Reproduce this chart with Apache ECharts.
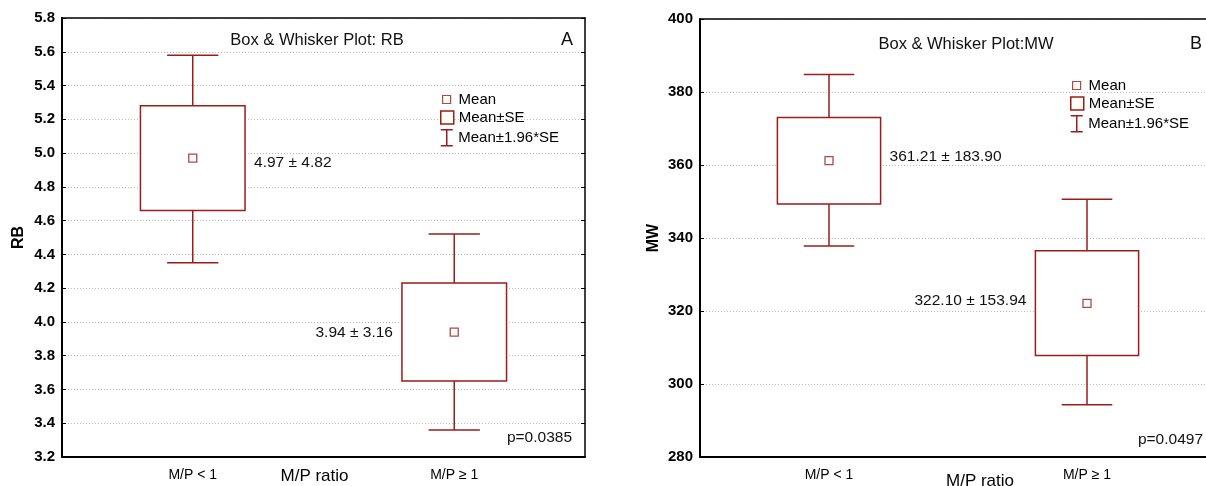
<!DOCTYPE html>
<html>
<head>
<meta charset="utf-8">
<script src="https://cdn.jsdelivr.net/npm/echarts@6/dist/echarts.min.js"></script>
<style>
  html, body { margin: 0; padding: 0; background: #fff; }
  #chart { width: 1206px; height: 486px; }
</style>
</head>
<body>
<div id="chart"></div>
<script>
const categories = ['M/P < 1', 'M/P \u2265 1'];

// RB panel (A)
const rbMean = [4.97, 3.94];
const rbSeLow = [4.66, 3.65];
const rbSeHigh = [5.28, 4.23];
const rbCiLow = [4.35, 3.36];
const rbCiHigh = [5.58, 4.52];
const rbLabels = ['4.97 \u00b1 4.82', '3.94 \u00b1 3.16'];

// MW panel (B)
const mwMean = [361.21, 322.10];
const mwSeLow = [349.3, 307.8];
const mwSeHigh = [373.0, 336.5];
const mwCiLow = [337.8, 294.3];
const mwCiHigh = [384.8, 350.6];
const mwLabels = ['361.21 \u00b1 183.90', '322.10 \u00b1 153.94'];

const labelSide = ['right', 'left'];

const RED = '#9b1c1c';
const FONT = '"Liberation Sans", Arial, sans-serif';

const chart = echarts.init(document.getElementById('chart'));

function renderWhisker(params, api) {
  const x = api.value(0);
  const band = api.size([1, 0])[0];
  const half = band * 0.098;
  const lo = api.coord([x, api.value(1)]);
  const boxLo = api.coord([x, api.value(2)]);
  const boxHi = api.coord([x, api.value(3)]);
  const hi = api.coord([x, api.value(4)]);
  const style = { stroke: RED, lineWidth: 1.5 };
  return {
    type: 'group',
    children: [
      { type: 'line', shape: { x1: lo[0], y1: lo[1], x2: boxLo[0], y2: boxLo[1] }, style: style },
      { type: 'line', shape: { x1: boxHi[0], y1: boxHi[1], x2: hi[0], y2: hi[1] }, style: style },
      { type: 'line', shape: { x1: lo[0] - half, y1: lo[1], x2: lo[0] + half, y2: lo[1] }, style: style },
      { type: 'line', shape: { x1: hi[0] - half, y1: hi[1], x2: hi[0] + half, y2: hi[1] }, style: style }
    ]
  };
}

// labelShift: small vertical nudge of the value text, per group
function renderBox(labels, labelShift) {
  return function (params, api) {
    const i = params.dataIndex;
    const x = api.value(0);
    const band = api.size([1, 0])[0];
    const w = band * 0.4;
    const lo = api.coord([x, api.value(1)]);
    const hi = api.coord([x, api.value(2)]);
    const m = api.coord([x, api.value(3)]);
    const right = labelSide[i] === 'right';
    return {
      type: 'group',
      children: [
        {
          type: 'rect',
          shape: { x: hi[0] - w / 2, y: hi[1], width: w, height: lo[1] - hi[1] },
          style: { fill: '#fff', stroke: RED, lineWidth: 1.5 }
        },
        {
          type: 'text',
          x: right ? hi[0] + w / 2 + 9 : hi[0] - w / 2 - 9,
          y: m[1] + labelShift[i],
          style: {
            text: labels[i],
            textAlign: right ? 'left' : 'right',
            textVerticalAlign: 'middle',
            font: '15.5px ' + FONT,
            fill: '#111'
          }
        }
      ]
    };
  };
}

function makeSeries(idx, mean, seLow, seHigh, ciLow, ciHigh, labels, labelShift) {
  return [
    {
      name: 'Mean\u00b11.96*SE',
      type: 'custom',
      xAxisIndex: idx * 2,
      yAxisIndex: idx * 2,
      renderItem: renderWhisker,
      encode: { x: 0, y: [1, 4] },
      data: categories.map((c, i) => [i, ciLow[i], seLow[i], seHigh[i], ciHigh[i]]),
      z: 2
    },
    {
      name: 'Mean\u00b1SE',
      type: 'custom',
      xAxisIndex: idx * 2,
      yAxisIndex: idx * 2,
      renderItem: renderBox(labels, labelShift),
      encode: { x: 0, y: [1, 2] },
      data: categories.map((c, i) => [i, seLow[i], seHigh[i], mean[i]]),
      z: 3
    },
    {
      name: 'Mean',
      type: 'scatter',
      xAxisIndex: idx * 2,
      yAxisIndex: idx * 2,
      symbol: 'rect',
      symbolSize: 8,
      itemStyle: { color: '#fff', borderColor: RED, borderWidth: 1.3 },
      data: categories.map((c, i) => [i, mean[i]]),
      z: 4
    }
  ];
}

function xAxes(gridIndex, namePadding, nameGap) {
  return [
    {
      type: 'category',
      gridIndex: gridIndex,
      data: categories,
      position: 'bottom',
      name: 'M/P ratio',
      nameLocation: 'middle',
      nameGap: nameGap,
      nameMoveOverlap: false,
      nameTextStyle: { fontSize: 17, color: '#000', fontFamily: FONT, padding: namePadding },
      axisLine: { lineStyle: { color: '#000', width: 2 } },
      axisTick: { inside: true, alignWithLabel: true, length: 4, lineStyle: { color: '#000' } },
      axisLabel: { fontSize: 14, color: '#000', fontFamily: FONT, margin: 11 },
      splitLine: { show: false }
    },
    {
      type: 'category',
      gridIndex: gridIndex,
      data: categories,
      position: 'top',
      axisLine: { lineStyle: { color: '#000', width: 1.5 } },
      axisTick: { inside: true, alignWithLabel: true, length: 4, lineStyle: { color: '#000' } },
      axisLabel: { show: false },
      splitLine: { show: false }
    }
  ];
}

function yAxes(gridIndex, name, min, max, interval, digits, nameGap, showRight) {
  return [
    {
      type: 'value',
      gridIndex: gridIndex,
      position: 'left',
      min: min,
      max: max,
      interval: interval,
      name: name,
      nameLocation: 'middle',
      nameRotate: 90,
      nameGap: nameGap,
      nameTextStyle: { fontSize: 16, fontWeight: 'bold', color: '#000', fontFamily: FONT },
      axisLine: { show: true, lineStyle: { color: '#000', width: 2 } },
      axisTick: { show: true, inside: true, length: 4, lineStyle: { color: '#000' } },
      axisLabel: {
        fontSize: 15, color: '#000', fontFamily: FONT, fontWeight: 'bold', margin: 7,
        formatter: v => v.toFixed(digits)
      },
      splitLine: { show: true, lineStyle: { color: '#bdbdbd', type: [1, 2], width: 1 } }
    },
    {
      type: 'value',
      gridIndex: gridIndex,
      position: 'right',
      show: showRight,
      min: min,
      max: max,
      interval: interval,
      axisLine: { show: true, lineStyle: { color: '#000', width: 1.5 } },
      axisTick: { show: true, inside: true, length: 4, lineStyle: { color: '#000' } },
      axisLabel: { show: false },
      splitLine: { show: false }
    }
  ];
}

function legendSet(left, top) {
  const txt = { fontSize: 15, color: '#000', fontFamily: FONT };
  return [
    {
      data: [{ name: 'Mean', icon: 'rect', itemStyle: { color: '#fffdf5', borderColor: RED, borderWidth: 1.2 } }],
      left: left + 2, top: top, padding: 0, itemWidth: 8, itemHeight: 8,
      selectedMode: false, textStyle: Object.assign({ padding: [0, 0, 0, 3] }, txt)
    },
    {
      data: [{ name: 'Mean\u00b1SE', icon: 'rect', itemStyle: { color: '#fffdf5', borderColor: RED, borderWidth: 1.5 } }],
      left: left, top: top + 18, padding: 0, itemWidth: 13, itemHeight: 13,
      selectedMode: false, textStyle: txt
    },
    {
      data: [{
        name: 'Mean\u00b11.96*SE',
        icon: 'path://M0,0L12,0M6,0L6,16M0,16L12,16',
        itemStyle: { color: 'transparent', borderColor: RED, borderWidth: 1.5 }
      }],
      left: left, top: top + 37, padding: 0, itemWidth: 13, itemHeight: 16,
      selectedMode: false, textStyle: txt
    }
  ];
}

function txt(x, y, s, size, align) {
  return {
    type: 'text', x: x, y: y,
    style: { text: s, textAlign: align, textVerticalAlign: 'middle', font: size + 'px ' + FONT, fill: '#111' }
  };
}

const option = {
  backgroundColor: '#fff',
  animation: false,
  grid: [
    { left: 62, top: 18, width: 523, height: 439, containLabel: false, outerBoundsMode: 'none' },
    { left: 700, top: 19, width: 516, height: 438, containLabel: false, outerBoundsMode: 'none' }
  ],
  xAxis: xAxes(0, [0, 18, 0, 0], 11).concat(xAxes(1, [0, 0, 0, 44], 16)),
  yAxis: yAxes(0, 'RB', 3.2, 5.8, 0.2, 1, 35, true).concat(yAxes(1, 'MW', 280, 400, 20, 0, 38, false)),
  legend: legendSet(440, 92).concat(legendSet(1070, 78)),
  graphic: [
    txt(317, 40, 'Box & Whisker Plot: RB', 16.5, 'center'),
    txt(567, 40, 'A', 18, 'center'),
    txt(572, 438, 'p=0.0385', 15.5, 'right'),
    txt(966, 44, 'Box & Whisker Plot:MW', 16.5, 'center'),
    txt(1196, 44, 'B', 18, 'center'),
    txt(1203, 440, 'p=0.0497', 15.5, 'right')
  ],
  series: makeSeries(0, rbMean, rbSeLow, rbSeHigh, rbCiLow, rbCiHigh, rbLabels, [5, 1])
    .concat(makeSeries(1, mwMean, mwSeLow, mwSeHigh, mwCiLow, mwCiHigh, mwLabels, [-4, -3]))
};

chart.setOption(option);
</script>
</body>
</html>
